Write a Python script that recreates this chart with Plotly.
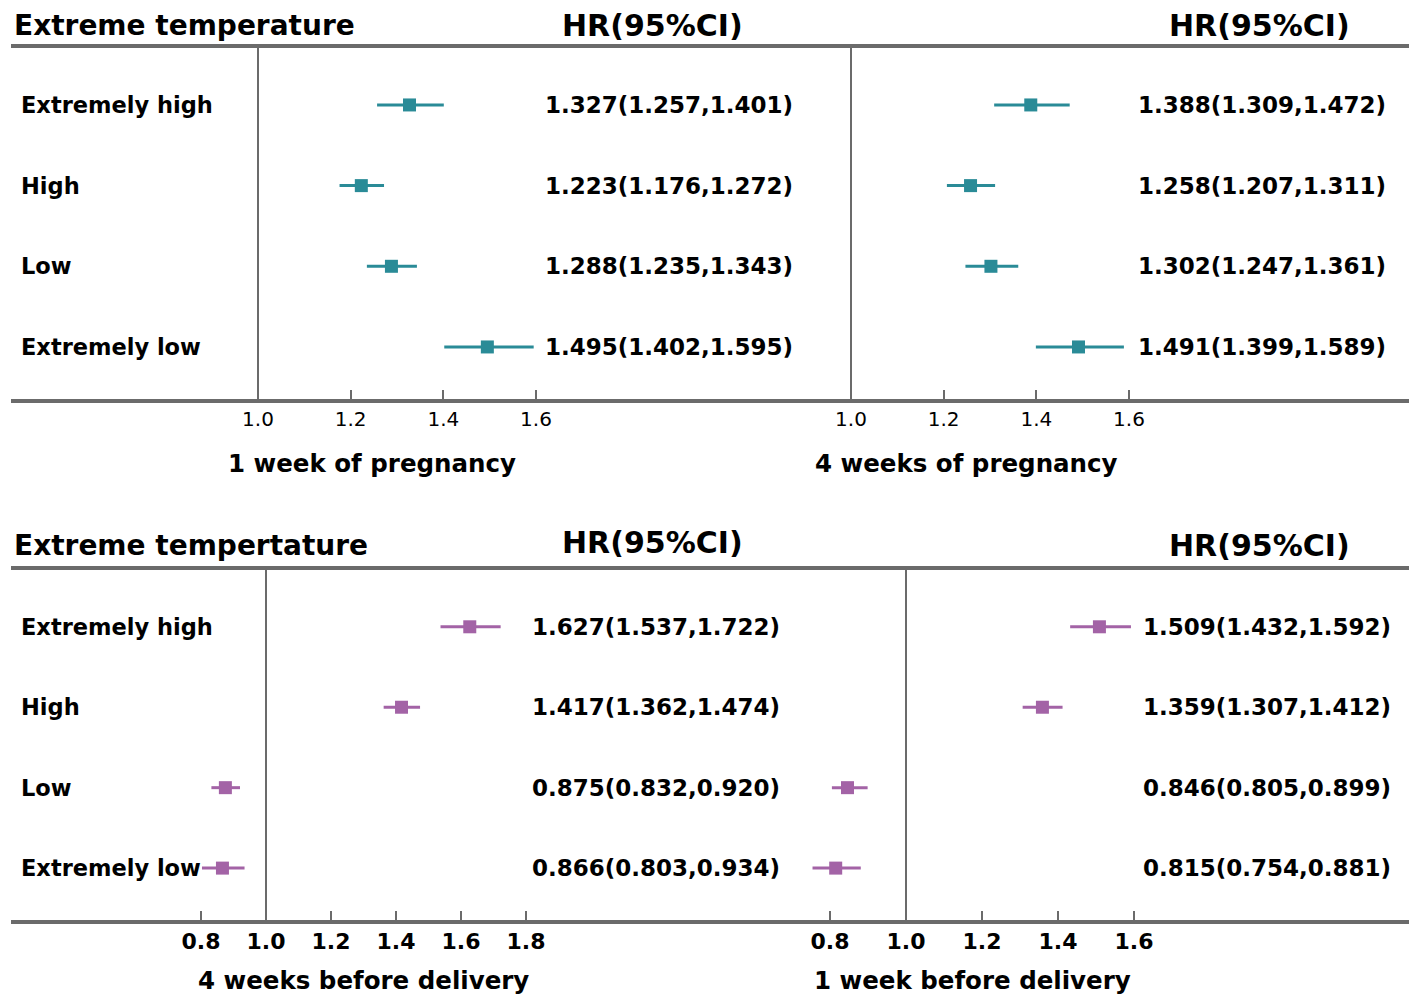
import plotly.graph_objects as go

# data
categories = ["Extremely high", "High", "Low", "Extremely low"]

hr_1w_preg = [1.327, 1.223, 1.288, 1.495]
lo_1w_preg = [1.257, 1.176, 1.235, 1.402]
hi_1w_preg = [1.401, 1.272, 1.343, 1.595]

hr_4w_preg = [1.388, 1.258, 1.302, 1.491]
lo_4w_preg = [1.309, 1.207, 1.247, 1.399]
hi_4w_preg = [1.472, 1.311, 1.361, 1.589]

hr_4w_deliv = [1.627, 1.417, 0.875, 0.866]
lo_4w_deliv = [1.537, 1.362, 0.832, 0.803]
hi_4w_deliv = [1.722, 1.474, 0.920, 0.934]

hr_1w_deliv = [1.509, 1.359, 0.846, 0.815]
lo_1w_deliv = [1.432, 1.307, 0.805, 0.754]
hi_1w_deliv = [1.592, 1.412, 0.899, 0.881]

ticks_top = [1.0, 1.2, 1.4, 1.6]
ticks_4w_deliv = [0.8, 1.0, 1.2, 1.4, 1.6, 1.8]
ticks_1w_deliv = [0.8, 1.0, 1.2, 1.4, 1.6]

# the page body has an 8px margin, so the figure is a bit smaller and shifted
OFF = 8
W, H = 1417 - 2 * OFF, 1002 - 2 * OFF
FONT = "DejaVu Sans"
GREY = "#6b6b6b"
TEAL = "#2a8b97"
PURPLE = "#a363a6"


def px(x):
    return (x - OFF) / W


def py(y):
    return 1 - (y - OFF) / H


def xrange_for(dom_px, ref_px, ref_val=(1.0, 1.6)):
    # axis range so that ref values land on the given pixel columns
    scale = (ref_val[1] - ref_val[0]) / (ref_px[1] - ref_px[0])
    return [ref_val[0] - (ref_px[0] - dom_px[0]) * scale,
            ref_val[0] + (dom_px[1] - ref_px[0]) * scale]


panels = [
    dict(hr=hr_1w_preg, lo=lo_1w_preg, hi=hi_1w_preg, color=TEAL, dom=(10, 790), ref=(258, 536),
         ydom=(48, 401), ticks=ticks_top, tx=543, title="1 week of pregnancy", titx=372, tity=463, bold=False),
    dict(hr=hr_4w_preg, lo=lo_4w_preg, hi=hi_4w_preg, color=TEAL, dom=(800, 1408), ref=(851, 1129),
         ydom=(48, 401), ticks=ticks_top, tx=1136, title="4 weeks of pregnancy", titx=966, tity=463, bold=False),
    dict(hr=hr_4w_deliv, lo=lo_4w_deliv, hi=hi_4w_deliv, color=PURPLE, dom=(10, 790), ref=(266, 461),
         ydom=(570, 922), ticks=ticks_4w_deliv, tx=530, title="4 weeks before delivery", titx=363, tity=980, bold=True),
    dict(hr=hr_1w_deliv, lo=lo_1w_deliv, hi=hi_1w_deliv, color=PURPLE, dom=(800, 1408), ref=(906, 1134),
         ydom=(570, 922), ticks=ticks_1w_deliv, tx=1141, title="1 week before delivery", titx=973, tity=980, bold=True),
]

fig = go.Figure()
annotations = []
shapes = []
layout = {}

for i, p in enumerate(panels):
    n = "" if i == 0 else str(i + 1)
    xa, ya = "x" + n, "y" + n
    fig.add_trace(go.Scatter(
        x=p["hr"], y=categories, xaxis=xa, yaxis=ya, mode="markers",
        marker=dict(symbol="square", size=13, color=p["color"]),
        error_x=dict(type="data", symmetric=False,
                     array=[h - m for h, m in zip(p["hi"], p["hr"])],
                     arrayminus=[m - l for m, l in zip(p["hr"], p["lo"])],
                     color=p["color"], thickness=3, width=0),
        showlegend=False, hoverinfo="skip"))

    layout["xaxis" + n] = dict(
        domain=[px(p["dom"][0]), px(p["dom"][1])],
        range=xrange_for(p["dom"], p["ref"]),
        anchor=ya, showgrid=False, zeroline=False, showline=False,
        tickvals=p["ticks"], ticktext=[f"{t:.1f}" for t in p["ticks"]],
        ticks="inside", ticklen=11, tickwidth=2, tickcolor=GREY, ticklabelstandoff=4,
        tickfont=dict(family=FONT, size=22 if p["bold"] else 20, color="black",
                      weight=700 if p["bold"] else 400))
    layout["yaxis" + n] = dict(
        domain=[py(p["ydom"][1]), py(p["ydom"][0])],
        type="category", categoryorder="array", categoryarray=categories,
        range=[3.67, -0.706], anchor=xa,
        showgrid=False, zeroline=False, showline=False, showticklabels=False, ticks="")

    # reference line at HR = 1
    shapes.append(dict(type="line", xref=xa, yref=ya + " domain", x0=1, x1=1, y0=0, y1=1,
                       line=dict(color=GREY, width=2)))

    for c, m, l, h in zip(categories, p["hr"], p["lo"], p["hi"]):
        annotations.append(dict(
            xref="paper", yref=ya, x=px(p["tx"]), y=c, xanchor="left", yanchor="middle",
            text=f"{m:.3f}({l:.3f},{h:.3f})", showarrow=False,
            font=dict(family=FONT, size=23, color="black", weight=700)))
        if i % 2 == 0:
            annotations.append(dict(
                xref="paper", yref=ya, x=px(19), y=c, xanchor="left", yanchor="middle",
                text=c, showarrow=False,
                font=dict(family=FONT, size=22.5, color="black", weight=700)))

    annotations.append(dict(
        xref="paper", yref="paper", x=px(p["titx"]), y=py(p["tity"]), xanchor="center", yanchor="middle",
        text=p["title"], showarrow=False, font=dict(family=FONT, size=24.5, color="black", weight=700)))

# headers
for label, y_head in [("Extreme temperature", 25), ("Extreme tempertature", 545)]:
    annotations.append(dict(xref="paper", yref="paper", x=px(12), y=py(y_head), xanchor="left",
                            yanchor="middle", text=label, showarrow=False,
                            font=dict(family=FONT, size=28, color="black", weight=700)))
for x_head, y_head in [(652, 25), (1259, 25), (652, 542), (1259, 545)]:
    annotations.append(dict(xref="paper", yref="paper", x=px(x_head), y=py(y_head), xanchor="center",
                            yanchor="middle", text="HR(95%CI)", showarrow=False,
                            font=dict(family=FONT, size=30, color="black", weight=700)))

# thick horizontal rules
for y_line in [46, 401, 568, 922]:
    shapes.append(dict(type="line", xref="paper", yref="paper", x0=px(11), x1=px(1409),
                       y0=py(y_line), y1=py(y_line), line=dict(color=GREY, width=4)))

fig.update_layout(
    width=W, height=H, margin=dict(l=0, r=0, t=0, b=0),
    paper_bgcolor="white", plot_bgcolor="white",
    annotations=annotations, shapes=shapes, **layout)

fig.write_html("out.html")
